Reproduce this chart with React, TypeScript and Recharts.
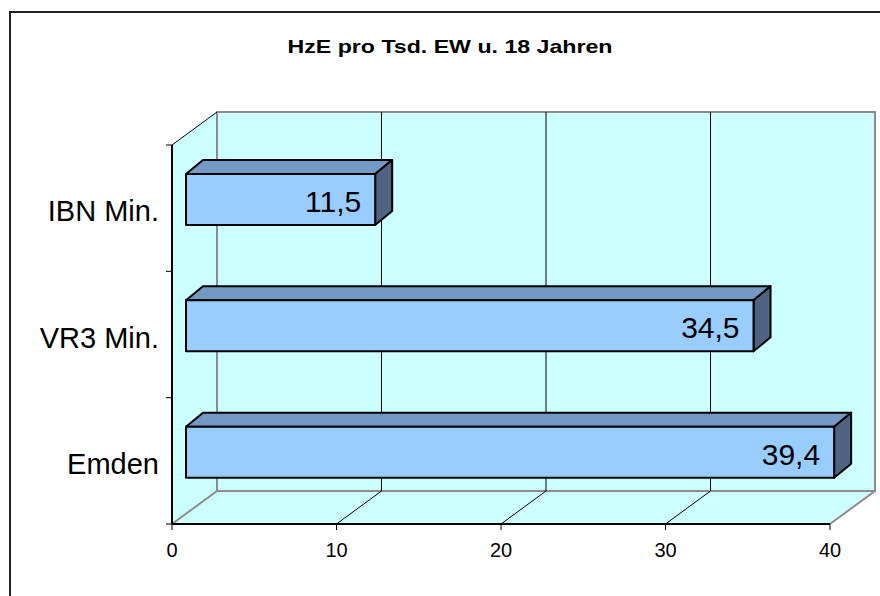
import { BarChart, Bar, XAxis, YAxis, ReferenceArea, ReferenceLine, LabelList } from 'recharts';

const categories = ['IBN Min.', 'VR3 Min.', 'Emden'];
const values = [11.5, 34.5, 39.4];
const xTicks = [0, 10, 20, 30, 40];
const gridValues = [10, 20, 30];

const data = categories.map((name, i) => ({ name, value: values[i] }));

// 3D box: offset of the back wall, and where the bars sit inside the depth
const DEPTH_X = 45;
const DEPTH_Y = -33;
const BAR_SHIFT_X = 14;
const BAR_SHIFT_Y = -9;
const BAR_DEPTH_X = 17;
const BAR_DEPTH_Y = -14;

const WALL = '#CCFFFF';
const EDGE = '#8C8C8C';
const FRONT = '#99CCFF';
const TOP = '#7399C4';
const SIDE = '#4F6383';
const FONT = '"Liberation Sans", Arial, Helvetica, sans-serif';

function Walls(props: any) {
  const { x, y, width, height } = props;
  const bx = x + DEPTH_X;
  const by = y + DEPTH_Y;
  const r = x + width;
  const b = y + height;
  return (
    <g>
      <polygon points={`${x},${y} ${bx},${by} ${bx},${by + height} ${x},${b}`} fill={WALL} />
      <polygon points={`${x},${b} ${r},${b} ${r + DEPTH_X},${b + DEPTH_Y} ${bx},${by + height}`} fill={WALL} />
      <rect x={bx} y={by} width={width} height={height} fill={WALL} stroke={EDGE} strokeWidth={2} />
      <line x1={x} y1={y} x2={bx} y2={by} stroke="#000" strokeWidth={1} />
      <line x1={x} y1={b} x2={bx} y2={by + height} stroke={EDGE} strokeWidth={2} />
      <line x1={r} y1={b} x2={r + DEPTH_X} y2={b + DEPTH_Y} stroke={EDGE} strokeWidth={2} />
    </g>
  );
}

// back-wall gridline plus its diagonal across the floor
function GridLine(props: any) {
  const { x1, y1, y2 } = props;
  const top = Math.min(y1, y2);
  const bottom = Math.max(y1, y2);
  return (
    <g>
      <line x1={x1 + DEPTH_X} y1={top + DEPTH_Y} x2={x1 + DEPTH_X} y2={bottom + DEPTH_Y} stroke="#000" strokeWidth={1} />
      <line x1={x1} y1={bottom} x2={x1 + DEPTH_X} y2={bottom + DEPTH_Y} stroke="#000" strokeWidth={1} />
    </g>
  );
}

function Box3D(props: any) {
  const { x, y, width, height } = props;
  if (width == null || height == null) return null;
  const fx = x + BAR_SHIFT_X;
  const fy = y + BAR_SHIFT_Y;
  const r = fx + width;
  const b = fy + height;
  const dx = BAR_DEPTH_X;
  const dy = BAR_DEPTH_Y;
  return (
    <g stroke="#000" strokeWidth={2} strokeLinejoin="round">
      <polygon points={`${fx},${fy} ${fx + dx},${fy + dy} ${r + dx},${fy + dy} ${r},${fy}`} fill={TOP} />
      <polygon points={`${r},${fy} ${r + dx},${fy + dy} ${r + dx},${b + dy} ${r},${b}`} fill={SIDE} />
      <rect x={fx} y={fy} width={width} height={height} fill={FRONT} />
    </g>
  );
}

function ValueLabel(props: any) {
  const { x, y, width, height, value } = props;
  const text = Number(value).toFixed(1).replace('.', ',');
  return (
    <text
      x={x + BAR_SHIFT_X + width - 14}
      y={y + BAR_SHIFT_Y + height / 2 + 2}
      textAnchor="end"
      dominantBaseline="central"
      fontFamily={FONT}
      fontSize={30}
      fill="#000"
    >
      {text}
    </text>
  );
}

function CategoryTick(props: any) {
  const { x, y, payload, index, visibleTicksCount } = props;
  const half = payload.offset ?? 63;
  return (
    <g>
      <line x1={x - 6} x2={x} y1={y - half} y2={y - half} stroke="#000" strokeWidth={1} />
      {index === visibleTicksCount - 1 && (
        <line x1={x - 6} x2={x} y1={y + half} y2={y + half} stroke="#000" strokeWidth={1} />
      )}
      <text x={x - 13} y={y + 3} textAnchor="end" dominantBaseline="central" fontFamily={FONT} fontSize={29} fill="#000">
        {payload.value}
      </text>
    </g>
  );
}

export default function App() {
  return (
    <div style={{ position: 'absolute', left: 0, top: 0, width: 880, height: 596, overflow: 'hidden', background: '#fff' }}>
      <svg width={880} height={596} style={{ position: 'absolute', left: 0, top: 0 }}>
        <rect x={10} y={12} width={1000} height={1000} fill="none" stroke="#222" strokeWidth={2} />
        <text
          x={450}
          y={53}
          textAnchor="middle"
          fontFamily={FONT}
          fontWeight="bold"
          fontSize={19}
          textLength={325}
          lengthAdjust="spacingAndGlyphs"
          fill="#000"
        >
          HzE pro Tsd. EW u. 18 Jahren
        </text>
      </svg>
      <div style={{ position: 'absolute', left: 0, top: 0 }}>
        <BarChart
          width={880}
          height={596}
          data={data}
          layout="vertical"
          margin={{ top: 145, right: 50, bottom: 42, left: 2 }}
          barSize={51}
        >
          <XAxis
            type="number"
            domain={[0, 40]}
            ticks={xTicks}
            interval={0}
            height={30}
            axisLine={{ stroke: '#000', strokeWidth: 2 }}
            tickLine={{ stroke: '#000' }}
            tickSize={6}
            tickMargin={13}
            tick={{ fill: '#000', fontSize: 20, fontFamily: FONT }}
          />
          <YAxis
            type="category"
            dataKey="name"
            width={170}
            axisLine={{ stroke: '#000', strokeWidth: 2 }}
            tickLine={false}
            tickSize={0}
            tickMargin={0}
            tick={<CategoryTick />}
          />
          <ReferenceArea x1={0} x2={40} shape={<Walls />} zIndex={-200} />
          {gridValues.map((v) => (
            <ReferenceLine key={v} x={v} shape={<GridLine />} zIndex={-150} />
          ))}
          <Bar dataKey="value" shape={<Box3D />} isAnimationActive={false}>
            <LabelList dataKey="value" content={<ValueLabel />} />
          </Bar>
        </BarChart>
      </div>
    </div>
  );
}
